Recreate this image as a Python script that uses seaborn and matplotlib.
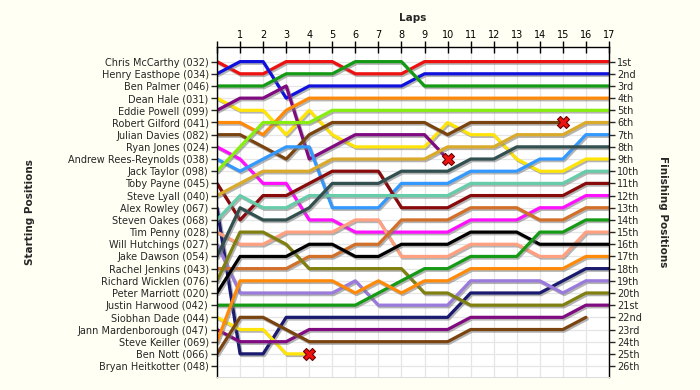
import matplotlib
matplotlib.use("Agg")
import matplotlib.pyplot as plt
import matplotlib.patheffects as pe
import pandas as pd
import seaborn as sns

# ---------------- data ----------------
laps = list(range(0, 18))

drivers = [
    "Chris McCarthy (032)", "Henry Easthope (034)", "Ben Palmer (046)", "Dean Hale (031)",
    "Eddie Powell (099)", "Robert Gilford (041)", "Julian Davies (082)", "Ryan Jones (024)",
    "Andrew Rees-Reynolds (038)", "Jack Taylor (098)", "Toby Payne (045)", "Steve Lyall (040)",
    "Alex Rowley (067)", "Steven Oakes (068)", "Tim Penny (028)", "Will Hutchings (027)",
    "Jake Dawson (054)", "Rachel Jenkins (043)", "Richard Wicklen (076)", "Peter Marriott (020)",
    "Justin Harwood (042)", "Siobhan Dade (044)", "Jann Mardenborough (047)", "Steve Keiller (069)",
    "Ben Nott (066)", "Bryan Heitkotter (048)",
]

finish_labels = ["1st", "2nd", "3rd", "4th", "5th", "6th", "7th", "8th", "9th", "10th",
                 "11th", "12th", "13th", "14th", "15th", "16th", "17th", "18th", "19th",
                 "20th", "21st", "22nd", "23rd", "24th", "25th", "26th"]

mccarthy = [1, 2, 2, 1, 1, 1, 2, 2, 2, 1, 1, 1, 1, 1, 1, 1, 1, 1]
easthope = [2, 1, 1, 4, 3, 3, 3, 3, 3, 2, 2, 2, 2, 2, 2, 2, 2, 2]
palmer = [3, 3, 3, 2, 2, 2, 1, 1, 1, 3, 3, 3, 3, 3, 3, 3, 3, 3]
hale = [4, 5, 5, 7, 5, 7, 8, 8, 8, 8, 6, 7, 7, 9, 10, 10, 9, 9]
powell = [5, 4, 4, 3, 9, 8, 7, 7, 7, 7, 9]
gilford = [6, 6, 7, 5, 4, 4, 4, 4, 4, 4, 4, 4, 4, 4, 4, 4, 4, 4]
davies = [7, 7, 8, 9, 7, 6, 6, 6, 6, 6, 7, 6, 6, 6, 6, 6]
jones = [8, 9, 11, 11, 14, 14, 15, 15, 15, 15, 15, 14, 14, 14, 13, 13, 12, 12]
rees_reynolds = [9, 10, 9, 8, 8, 13, 13, 13, 11, 11, 11, 10, 10, 10, 9, 9, 7, 7]
taylor = [10, 8, 6, 6, 6, 5, 5, 5, 5, 5, 5, 5, 5, 5, 5, 5, 5, 5]
payne = [11, 14, 12, 12, 11, 10, 10, 10, 13, 13, 13, 12, 12, 12, 12, 12, 11, 11]
lyall = [12, 11, 10, 10, 10, 9, 9, 9, 9, 9, 8, 8, 8, 7, 7, 7, 6, 6]
rowley = [13, 25, 25, 22, 22, 22, 22, 22, 22, 22, 22, 20, 20, 20, 20, 19, 18, 18]
oakes = [14, 12, 13, 13, 12, 12, 12, 12, 12, 12, 12, 11, 11, 11, 11, 11, 10, 10]
penny = [15, 16, 16, 15, 15, 15, 14, 14, 17, 17, 17, 16, 16, 16, 17, 17, 15, 15]
hutchings = [16, 20, 20, 20, 20, 20, 19, 21, 21, 21, 21, 19, 19, 19, 19, 20, 19, 19]
dawson = [17, 13, 14, 14, 13, 11, 11, 11, 10, 10, 10, 9, 9, 8, 8, 8, 8, 8]
jenkins = [18, 18, 18, 18, 17, 17, 16, 16, 14, 14, 14, 13, 13, 13, 14, 14, 13, 13]
wicklen = [19, 15, 15, 16, 18, 18, 18, 18, 18, 20, 20, 21, 21, 21, 21, 21, 20, 20]
marriott = [20, 17, 17, 17, 16, 16, 17, 17, 16, 16, 16, 15, 15, 15, 16, 16, 16, 16]
harwood = [21, 21, 21, 21, 21, 21, 21, 20, 19, 18, 18, 17, 17, 17, 15, 15, 14, 14]
dade = [22, 23, 23, 25, 25]
mardenborough = [23, 24, 24, 24, 23, 23, 23, 23, 23, 23, 23, 22, 22, 22, 22, 22, 21, 21]
keiller = [24, 19, 19, 19, 19, 19, 20, 19, 20, 19, 19, 18, 18, 18, 18, 18, 17, 17]
nott = [25, 22, 22, 23, 24, 24, 24, 24, 24, 24, 24, 23, 23, 23, 23, 23, 22]
heitkotter = []

positions = [mccarthy, easthope, palmer, hale, powell, gilford, davies, jones,
             rees_reynolds, taylor, payne, lyall, rowley, oakes, penny, hutchings,
             dawson, jenkins, wicklen, marriott, harwood, dade, mardenborough,
             keiller, nott, heitkotter]

retired = ["Eddie Powell (099)", "Julian Davies (082)", "Siobhan Dade (044)"]

# ---------------- style ----------------
line_colors = ["#EE1111", "#1111DD", "#159A15", "#FFE40A", "#800A80", "#FF8A0A",
               "#7A4410", "#FF10FF", "#3399FF", "#88EE10", "#880A0A", "#DAAA2A",
               "#1A1A70", "#66CCAA", "#FFA080", "#9A7ADA", "#335050", "#D2702A",
               "#808010", "#000000", "#159A15", "#FFE40A", "#800A80", "#FF8A0A",
               "#7A4410", "#FF10FF"]
palette = dict(zip(drivers, line_colors))

rows = []
for name, pos in zip(drivers, positions):
    for lap, p in zip(laps, pos):
        rows.append({"driver": name, "lap": lap, "pos": p})
df = pd.DataFrame(rows)
df_ret = pd.DataFrame([r for r in rows if r["driver"] in retired])
df_ret = df_ret.groupby("driver", as_index=False).last()

sns.set_style("white")
plt.rcParams["font.family"] = ["DejaVu Sans"]

fig = plt.figure(figsize=(7, 3.9), dpi=100, facecolor="#FFFFF3")
ax = fig.add_axes([217 / 700, 1 - 377 / 390, (609 - 217) / 700, (377 - 47) / 390])
ax.set_facecolor("white")

sns.lineplot(data=df, x="lap", y="pos", hue="driver", palette=palette,
             hue_order=[d for d, p in zip(drivers, positions) if p],
             estimator=None, sort=False, legend=False, lw=2.3, ax=ax)
for ln in ax.lines:
    ln.set_path_effects([pe.SimpleLineShadow(offset=(1.0, -1.2), shadow_color="#777777", alpha=0.55),
                         pe.Normal()])
    ln.set_solid_joinstyle("round")

sns.scatterplot(data=df_ret, x="lap", y="pos", marker="X", s=75, color="#EE1111",
                edgecolor="#700000", linewidth=0.8, legend=False, ax=ax, zorder=10)

ax.set_xlim(0, 17)
ax.set_ylim(26.9, -0.2)
ax.set_xticks(laps)
ax.set_xticklabels([""] + [str(l) for l in laps[1:]])
ax.xaxis.tick_top()
ax.set_yticks(range(1, 27))
ax.set_yticklabels(drivers)
ax.tick_params(axis="x", direction="inout", length=8, width=1, labelsize=7, pad=1, colors="black")
ax.tick_params(axis="y", direction="out", length=4, width=1, labelsize=7, pad=2, left=True)
ax.grid(True, color="#E6E6E6", lw=0.9)
ax.set_axisbelow(True)
ax.set_xlabel("")
ax.set_ylabel("")
for side in ["left", "top", "right"]:
    ax.spines[side].set_color("black")
    ax.spines[side].set_linewidth(1)
ax.spines["bottom"].set_color("#DDDDDD")

ax2 = ax.twinx()
ax2.set_ylim(ax.get_ylim())
ax2.set_yticks(range(1, 27))
ax2.set_yticklabels(finish_labels)
ax2.tick_params(axis="y", direction="out", length=4, width=1, labelsize=7, pad=2, right=True)
for s in ax2.spines.values():
    s.set_visible(False)
ax2.grid(False)

fig.text(413 / 700, 1 - 18 / 390, "Laps", ha="center", va="center", fontsize=7.5, fontweight="bold")
fig.text(30 / 700, 1 - 212 / 390, "Starting Positions", ha="center", va="center",
         rotation=90, fontsize=7.5, fontweight="bold")
fig.text(663 / 700, 1 - 212 / 390, "Finishing Positions", ha="center", va="center",
         rotation=270, fontsize=7.5, fontweight="bold")

fig.savefig("out.png", dpi=100, facecolor=fig.get_facecolor())
